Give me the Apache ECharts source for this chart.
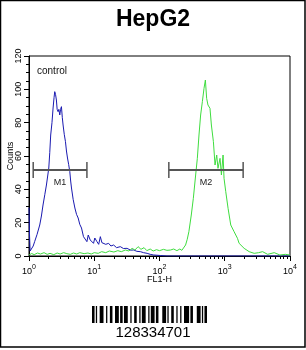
<!DOCTYPE html>
<html><head><meta charset="utf-8">
<script src="https://cdn.jsdelivr.net/npm/echarts@6/dist/echarts.min.js"></script>
<style>html,body{margin:0;padding:0;background:#fff}#c{width:306px;height:350px}</style>
</head><body><div id="c"></div>
<script>
// ---- data ----
var titleText = 'HepG2';
var sampleLabel = 'control';
var xName = 'FL1-H';
var yName = 'Counts';
var barcodeText = '128334701';
var xMajorTicks = [1, 10, 100, 1000, 10000];
var xMinorTicks = [2,3,4,5,6,7,8,9,20,30,40,50,60,70,80,90,200,300,400,500,600,700,800,900,2000,3000,4000,5000,6000,7000,8000,9000];
var yTicks = [0, 20, 40, 60, 80, 100, 120];

var controlX = [1.0,1.02,1.04,1.1,1.16,1.22,1.33,1.46,1.55,1.64,1.75,1.85,2.01,2.08,2.15,2.25,2.34,2.42,2.48,2.55,2.63,2.7,2.79,2.87,2.96,3.05,3.14,3.24,3.33,3.47,3.62,3.75,3.89,4.05,4.22,4.35,4.48,4.75,5.05,5.35,5.67,6.0,6.38,6.84,7.19,7.72,8.09,8.68,9.1,9.75,10.2,11,11.7,12.4,13.1,13.9,15,16.6,18,19.8,22,25.1,28,31.8,36,40.2,45,51,57,64.6,72,81.7,103,130,200,500,1000,3000,10000];
var controlY = [29,12,3,4,6,8.6,13,18.6,24,30.6,37,42.6,52.8,62,72.6,80,88.8,95,98.6,97,93.6,88,86.6,88,84.6,88,89.6,83,78.6,73,68.6,63,58.8,55,50.6,45,40.8,34,28.8,25,22.8,19,16.8,11.6,10.8,8.6,12.6,9.6,8.6,7.6,10.8,8.6,7,11.6,8,8.6,7,7.6,6,6.6,5,5.6,4.5,4.6,3.5,3.6,2.8,2.6,2,1.6,1,0.6,0.3,0,0,0,0,0,0];

var stainedX = [1.0,1.1,1.2,1.35,1.5,1.7,1.9,2.1,2.4,2.7,3,3.4,3.8,4.3,4.8,5.4,6,7,8,9,10,11.5,13,15,17,20,23,26,30,34,38,42,47,52,58,64,72,80,90,100,115,130,148,165,185,205,220,234,251,266,282,307,330,358,380,403,427,454,481,505,528,553,594,624,670,710,753,788,847,889,942,975,1036,1124,1236,1390,1567,1660,1763,1982,2366,2825,3300,3802,4538,5730,7000,8500,10000];
var stainedY = [0.6,1.5,0.8,1.8,1.2,2,1,1.6,0.8,1.8,1.2,2,1.4,1,1.8,1.2,2,1.4,1.8,1.2,2,1.6,2.6,2,3,2.4,3.2,2.6,3.6,3,4.6,3.6,5.6,4,5,3.2,4.2,3,3.8,3.2,4,3.4,3.6,4.2,3.2,4.2,3.4,4,6.6,10,14.6,24.6,34.6,48.6,58.6,72.6,84.6,92.6,100.6,105.6,94.6,90.6,88.6,78.6,68.6,54.6,60.6,52.6,58.6,48.6,60.6,46.6,38.6,28.6,18.6,14.6,10.6,7.6,8.6,4.6,2.6,1.6,2,2.6,1,2,0.6,1,0.6];

var markerNames = ['M1', 'M2'];
var markerStart = [1.16, 139];
var markerEnd = [7.72, 1914];
var markerLevel = [51.6, 51.6];

var barcodePattern = '11010011100' + '10011001110' + '11011100100' + '11001011100' + '10111011000' + '11101001100' + '10010011110' + '1100011101011';

function zip(a, b) { return a.map(function (v, i) { return [v, b[i]]; }); }

var chart = echarts.init(document.getElementById('c'), null, {renderer: 'canvas'});

var markerData = markerNames.map(function (n, i) { return [markerStart[i], markerEnd[i], markerLevel[i], n]; });

var barcodeChildren = [];
(function () {
  var bx = 92, bw = 115, mod = bw / barcodePattern.length;
  var i = 0;
  while (i < barcodePattern.length) {
    if (barcodePattern[i] === '1') {
      var j = i;
      while (j < barcodePattern.length && barcodePattern[j] === '1') j++;
      barcodeChildren.push({type: 'rect', shape: {x: bx + i * mod, y: 306, width: (j - i) * mod, height: 17}, style: {fill: '#000'}});
      i = j;
    } else i++;
  }
})();

var font = 'Liberation Sans, Arial, sans-serif';

chart.setOption({
  animation: false,
  backgroundColor: '#fff',
  title: {text: titleText, left: 'center', top: 3, textStyle: {fontFamily: font, fontSize: 23, fontWeight: 'bold', color: '#000'}},
  grid: {left: 29, top: 56, width: 261, height: 200, containLabel: false, outerBoundsMode: 'none', show: true, borderColor: '#000', borderWidth: 1, backgroundColor: 'transparent'},
  xAxis: [{
    type: 'log', logBase: 10, min: 1, max: 10000,
    name: xName, nameLocation: 'middle', nameGap: 19, nameMoveOverlap: false,
    nameTextStyle: {fontFamily: font, fontSize: 9, color: '#000'},
    axisLine: {lineStyle: {color: '#000', width: 1}},
    axisTick: {show: true, length: 5, inside: false, lineStyle: {color: '#000'}, customValues: xMajorTicks},
    axisLabel: {customValues: xMajorTicks, margin: 5, fontFamily: font, color: '#000',
      formatter: function (v) { return '{b|10}{s|' + Math.round(Math.log10(v)) + '}'; },
      rich: {b: {fontSize: 9, fontFamily: font, color: '#000', padding: [6, 0, 0, 0]}, s: {fontSize: 7, fontFamily: font, color: '#000', padding: [0, 0, 2, 0]}}},
    splitLine: {show: false}
  }, {
    type: 'log', logBase: 10, min: 1, max: 10000, gridIndex: 0, position: 'bottom',
    axisLine: {show: false},
    axisTick: {show: true, length: 3, lineStyle: {color: '#000'}, customValues: xMinorTicks},
    axisLabel: {show: false},
    splitLine: {show: false}
  }],
  yAxis: {
    type: 'value', min: 0, max: 120, interval: 20,
    name: yName, nameLocation: 'middle', nameGap: 14, nameMoveOverlap: false,
    nameTextStyle: {fontFamily: font, fontSize: 9, color: '#000'},
    axisLine: {show: true, lineStyle: {color: '#000'}},
    axisTick: {show: true, length: 5, lineStyle: {color: '#000'}},
    minorTick: {show: true, splitNumber: 4, length: 3, lineStyle: {color: '#000'}},
    axisLabel: {rotate: 90, margin: 6, fontFamily: font, fontSize: 9, color: '#000'},
    splitLine: {show: false}
  },
  graphic: [
    {type: 'rect', shape: {x: 0.5, y: 0.5, width: 304.5, height: 346.5}, style: {fill: null, stroke: '#000', lineWidth: 1.5}, z: 100},
    {type: 'text', left: 37, top: 66, style: {text: sampleLabel, font: '10px ' + font, fill: '#111'}},
    {type: 'group', children: barcodeChildren},
    {type: 'text', left: 'center', top: 325, style: {text: barcodeText, font: '15px ' + font, fill: '#000'}}
  ],
  series: [
    {type: 'line', data: zip(controlX, controlY), showSymbol: false, symbol: 'none', lineStyle: {color: '#1a1ab0', width: 1}, z: 3},
    {type: 'line', data: zip(stainedX, stainedY), showSymbol: false, symbol: 'none', lineStyle: {color: '#3fdc3f', width: 1}, z: 4},
    {type: 'custom', data: markerData, z: 5,
      encode: {x: [0, 1], y: 2},
      renderItem: function (params, api) {
        var p1 = api.coord([api.value(0), api.value(2)]);
        var p2 = api.coord([api.value(1), api.value(2)]);
        var c = '#555';
        return {type: 'group', children: [
          {type: 'line', shape: {x1: p1[0], y1: p1[1], x2: p2[0], y2: p2[1]}, style: {stroke: c, lineWidth: 2}},
          {type: 'line', shape: {x1: p1[0], y1: p1[1] - 8, x2: p1[0], y2: p1[1] + 8}, style: {stroke: c, lineWidth: 1.5}},
          {type: 'line', shape: {x1: p2[0], y1: p2[1] - 8, x2: p2[0], y2: p2[1] + 8}, style: {stroke: c, lineWidth: 1.5}},
          {type: 'text', style: {text: api.value(3), x: (p1[0] + p2[0]) / 2, y: p1[1] + 13, align: 'center', verticalAlign: 'middle', font: '9px ' + font, fill: '#222'}}
        ]};
      }
    }
  ]
});
</script></body></html>
